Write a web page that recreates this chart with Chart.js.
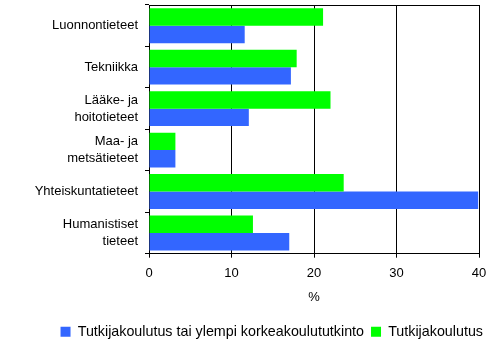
<!DOCTYPE html>
<html>
<head>
<meta charset="utf-8">
<script src="https://cdn.jsdelivr.net/npm/chart.js@4/dist/chart.umd.min.js"></script>
<style>
  html, body { margin: 0; padding: 0; background: #fff; }
  #wrap { width: 494px; height: 349px; }
</style>
</head>
<body>
<div id="wrap"><canvas id="chartAlat"></canvas></div>
<script>
// Tieteenalat (ylhäältä alas)
const categories = [
  'Luonnontieteet',
  'Tekniikka',
  ['Lääke- ja', 'hoitotieteet'],
  ['Maa- ja', 'metsätieteet'],
  'Yhteiskuntatieteet',
  ['Humanistiset', 'tieteet'],
];

// Osuudet, % (luettu kuvasta)
const tutkijakoulutus = [21.1, 17.9, 22.0, 3.2, 23.6, 12.6];
const ylempiTutkinto  = [11.6, 17.2, 12.1, 3.2, 39.9, 17.0];

const xMin = 0, xMax = 40, xStep = 10;

const FONT = { family: "'Liberation Sans', Arial, sans-serif", size: 13 };
const LEGEND_FONT = { family: FONT.family, size: 14.3 };
const GREEN = '#00FF00';
const BLUE = '#3366FF';

Chart.defaults.color = '#000';
Chart.defaults.font.family = FONT.family;
Chart.defaults.font.size = FONT.size;

// Yläreuna kehykseen (muut reunat tulevat akseleista ja ruudukosta)
const frameTop = {
  id: 'frameTop',
  afterDraw(chart) {
    const { ctx, chartArea } = chart;
    const y = Math.round(chartArea.top) + 0.5;
    ctx.save();
    ctx.strokeStyle = '#000';
    ctx.lineWidth = 1;
    ctx.beginPath();
    ctx.moveTo(chartArea.left, y);
    ctx.lineTo(chartArea.right, y);
    ctx.stroke();
    ctx.restore();
  },
};

new Chart(document.getElementById('chartAlat'), {
  type: 'bar',
  data: {
    labels: categories,
    datasets: [
      {
        label: 'Tutkijakoulutus',
        data: tutkijakoulutus,
        backgroundColor: GREEN,
        borderWidth: 0,
        categoryPercentage: 0.84,
        barPercentage: 1.0,
      },
      {
        label: 'Tutkijakoulutus tai ylempi korkeakoulututkinto',
        data: ylempiTutkinto,
        backgroundColor: BLUE,
        borderWidth: 0,
        categoryPercentage: 0.84,
        barPercentage: 1.0,
      },
    ],
  },
  options: {
    responsive: true,
    maintainAspectRatio: false,
    animation: false,
    indexAxis: 'y',
    layout: { padding: { left: 0, right: 4, top: 5, bottom: 0 } },
    plugins: {
      legend: {
        position: 'bottom',
        align: 'end',
        reverse: true, // sininen ensin kuten alkuperäisessä
        labels: {
          boxWidth: 10,
          boxHeight: 10,
          padding: 7,
          color: '#000',
          font: LEGEND_FONT,
        },
      },
      tooltip: { enabled: false },
    },
    scales: {
      x: {
        min: xMin,
        max: xMax,
        ticks: { stepSize: xStep, padding: 8, color: '#000', font: FONT },
        grid: { color: '#000', tickLength: 4, lineWidth: 1 },
        border: { color: '#000' },
        title: { display: true, text: '%', color: '#000', font: FONT, padding: { top: 6, bottom: 12 } },
        afterFit(scale) {
          scale.height = 64;
          scale.paddingRight = 15;
        },
      },
      y: {
        ticks: { padding: 7, color: '#000', font: { ...FONT, lineHeight: 1.3 } },
        grid: { display: true, drawOnChartArea: false, color: '#000', tickLength: 4 },
        border: { color: '#000' },
        afterFit(scale) {
          scale.width = 149;
          scale.paddingTop = 0;
          scale.paddingBottom = 0;
        },
      },
    },
  },
  plugins: [frameTop],
});
</script>
</body>
</html>
